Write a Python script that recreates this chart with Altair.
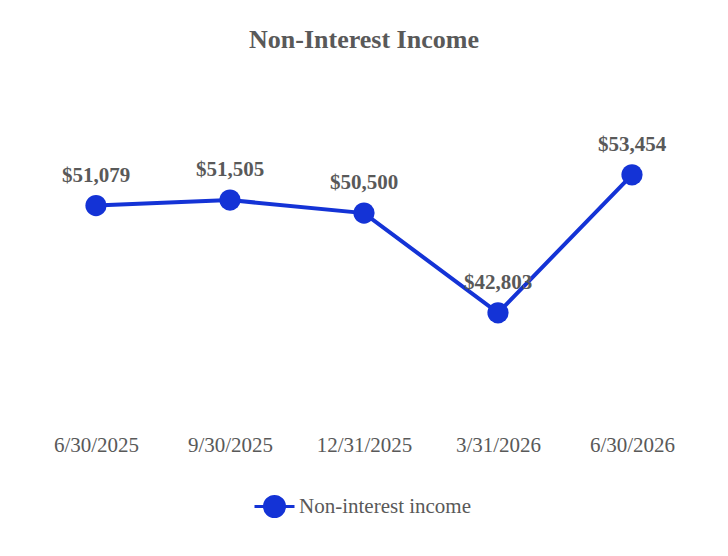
import altair as alt
import pandas as pd

dates = ["6/30/2025", "9/30/2025", "12/31/2025", "3/31/2026", "6/30/2026"]
values = [51079, 51505, 50500, 42803, 53454]
labels = ["$51,079", "$51,505", "$50,500", "$42,803", "$53,454"]
series = ["Non-interest income"] * 5

df = pd.DataFrame({"date": dates, "value": values, "label": labels, "series": series})

BLUE = "#1433d6"
GRAY = "#595959"
FONT = "Liberation Serif"

x = alt.X("date:O", sort=dates, title=None,
          scale=alt.Scale(type="point", padding=0.5),
          axis=alt.Axis(labelAngle=0, domain=False, ticks=False, grid=False,
                        labelFont=FONT, labelFontSize=21, labelColor=GRAY,
                        labelPadding=20))
y = alt.Y("value:Q", title=None,
          scale=alt.Scale(domain=[35000, 60000], zero=False, nice=False),
          axis=None)

base = alt.Chart(df).encode(x=x, y=y)

line = base.mark_line(color=BLUE, strokeWidth=4)
points = base.mark_circle(size=450, opacity=1).encode(
    color=alt.Color("series:N", title=None,
                    scale=alt.Scale(range=[BLUE]),
                    legend=alt.Legend(orient="none", legendX=234, legendY=405,
                                      padding=0,
                                      symbolType="M-2,0H-1M1,0H2M1,0A1,1 0 1,1 -1,0A1,1 0 1,1 1,0Z",
                                      symbolSize=400,
                                      symbolStrokeWidth=3,
                                      symbolStrokeColor=BLUE,
                                      symbolFillColor=BLUE,
                                      labelFont=FONT, labelFontSize=21,
                                      labelColor=GRAY, labelOffset=13,
                                      labelLimit=400))
)
text = base.mark_text(dy=-30, baseline="middle", font=FONT, fontSize=21,
                      fontWeight="bold", color=GRAY).encode(text="label:N")

chart = (line + points + text).properties(
    width=670, height=324,
    title=alt.TitleParams("Non-Interest Income", font=FONT, fontSize=26,
                          fontWeight="bold", color=GRAY, anchor="middle",
                          frame="group", offset=16, baseline="alphabetic"),
    autosize=alt.AutoSizeParams(type="none"),
    padding={"left": 21, "top": 82, "right": 12, "bottom": 110},
).configure_view(stroke=None)

chart.save("out.html", embed_options={"renderer": "svg", "actions": False})
